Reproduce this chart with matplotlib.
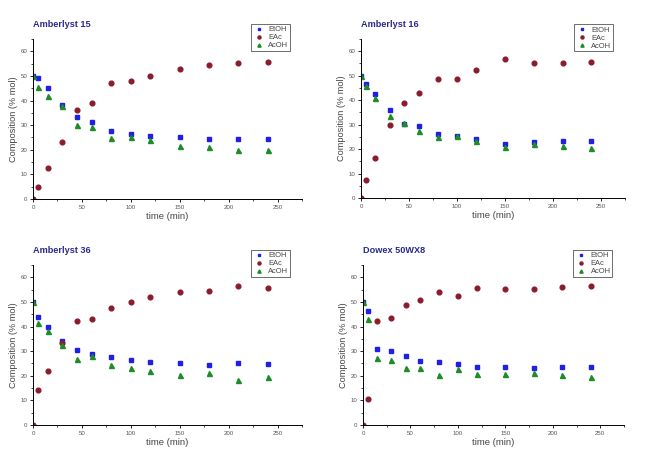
import matplotlib
matplotlib.use("Agg")
import matplotlib.pyplot as plt
from matplotlib.ticker import MultipleLocator

plt.rcParams['font.family'] = ['Liberation Sans', 'DejaVu Sans']

# sampling times (min)
time = [0, 5, 15, 30, 45, 60, 80, 100, 120, 150, 180, 210, 240]

# composition (% mol) per catalyst
a15_etoh = [50, 49.1, 45.2, 38.3, 33.5, 31.3, 27.7, 26.5, 25.7, 25.0, 24.2, 24.2, 24.2]
a15_eac = [0, 4.8, 12.5, 23.1, 36.2, 39.1, 47.2, 48.0, 49.9, 53.0, 54.5, 55.4, 55.7]
a15_acoh = [50, 45.7, 41.7, 37.9, 30.0, 29.2, 24.6, 25.3, 23.9, 21.7, 21.0, 19.9, 19.8]

a16_etoh = [50, 46.8, 42.7, 36.1, 30.2, 29.5, 26.1, 25.5, 24.1, 22.1, 23.0, 23.5, 23.5]
a16_eac = [0, 7.3, 16.4, 29.9, 38.8, 43.0, 48.8, 48.8, 52.4, 56.8, 55.0, 55.2, 55.5]
a16_acoh = [50, 45.7, 40.7, 33.7, 30.7, 27.2, 24.8, 25.5, 23.2, 21.0, 22.0, 21.2, 20.6]

a36_etoh = [50, 44.0, 39.8, 34.1, 30.6, 28.8, 27.6, 26.6, 25.7, 25.2, 24.2, 25.0, 24.7]
a36_eac = [0, 14.4, 21.9, 33.3, 42.1, 43.1, 47.7, 50.0, 51.9, 54.0, 54.6, 56.5, 55.7]
a36_acoh = [50, 41.3, 38.0, 32.5, 27.0, 28.0, 24.5, 23.0, 22.0, 20.4, 21.0, 18.2, 19.4]

dw_etoh = [50, 46.2, 30.7, 30.1, 28.0, 26.2, 25.4, 24.7, 23.5, 23.6, 23.3, 23.6, 23.6]
dw_eac = [0, 10.7, 42.1, 43.3, 48.8, 50.7, 54.2, 52.3, 55.6, 55.4, 55.4, 56.0, 56.4]
dw_acoh = [50, 43.0, 27.2, 26.5, 23.2, 23.1, 20.2, 22.7, 20.8, 20.6, 21.0, 20.2, 19.5]

titles = ['Amberlyst 15', 'Amberlyst 16', 'Amberlyst 36', 'Dowex 50WX8']
panels = [
    (a15_etoh, a15_eac, a15_acoh),
    (a16_etoh, a16_eac, a16_acoh),
    (a36_etoh, a36_eac, a36_acoh),
    (dw_etoh, dw_eac, dw_acoh),
]

W, H = 649, 457
# axes boxes in pixels: left, top, right, bottom
boxes = [(33, 39, 302, 199), (361, 39, 625, 198),
         (33, 265, 302, 425), (363, 265, 624, 425)]

fig = plt.figure(figsize=(W / 100, H / 100), dpi=100)

for title, (etoh, eac, acoh), (l, t, r, b) in zip(titles, panels, boxes):
    ax = fig.add_axes([l / W, 1 - b / H, (r - l) / W, (b - t) / H])
    ax.plot(time, etoh, 's', color='#1f1fe8', ms=3.2, label='EtOH')
    ax.plot(time, eac, 'o', color='#8b1c2c', ms=3.4, label='EAc')
    ax.plot(time, acoh, '^', color='#1e8c28', ms=3.6, label='AcOH')
    ax.set_xlim(0, 275)
    ax.set_ylim(0, 65)
    ax.xaxis.set_major_locator(MultipleLocator(50))
    ax.xaxis.set_minor_locator(MultipleLocator(25))
    ax.yaxis.set_major_locator(MultipleLocator(10))
    ax.yaxis.set_minor_locator(MultipleLocator(5))
    for s in ('top', 'right'):
        ax.spines[s].set_visible(False)
    for s in ('left', 'bottom'):
        ax.spines[s].set_linewidth(0.7)
    ax.tick_params(which='major', direction='out', length=2.5, width=0.6,
                   labelsize=4.4, labelcolor='#555555', pad=1.5)
    ax.tick_params(which='minor', direction='out', length=1.5, width=0.5)
    ax.set_xlabel('time (min)', fontsize=6.8, color='#444444', labelpad=2)
    ax.set_ylabel('Composition (% mol)', fontsize=6.6, color='#444444', labelpad=2)
    ax.text(0, 1.09, title, transform=ax.transAxes, fontsize=6.6,
            fontweight='bold', color='#2a2a8a', va='center', ha='left')
    leg = ax.legend(loc='upper right', bbox_to_anchor=(0.97, 1.115), fontsize=5.4,
                    frameon=True, fancybox=False, handlelength=1.6,
                    handletextpad=0.5, borderpad=0.25, labelspacing=0.1,
                    markerscale=0.65)
    leg.get_frame().set_edgecolor('black')
    leg.get_frame().set_linewidth(0.5)
    for txt in leg.get_texts():
        txt.set_color('#444444')

fig.savefig('out.png', dpi=100)
